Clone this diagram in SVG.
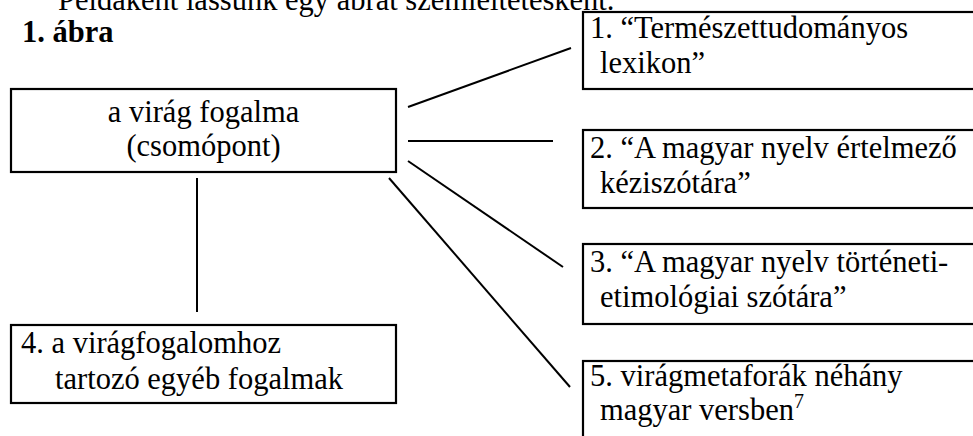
<svg xmlns="http://www.w3.org/2000/svg" width="973" height="436" viewBox="0 0 973 436">
<style>
text{font-family:"Liberation Serif","Times New Roman",serif;font-size:30.5px;fill:#000}
.b{font-weight:bold}
.box{fill:#fff;stroke:#000;stroke-width:2.2}
.c line{stroke:#000;stroke-width:2}
</style>
<rect width="973" height="436" fill="#fff"/>
<text x="58" y="10">Példaként lássunk egy ábrát szemléltetésként.</text>
<text class="b" x="22" y="42">1. ábra</text>
<g class="c" id="connectors">
<line x1="408" y1="107" x2="571" y2="48"/>
<line x1="408" y1="141" x2="553" y2="141"/>
<line x1="408" y1="161" x2="563" y2="267"/>
<line x1="389" y1="178" x2="570" y2="387"/>
<line x1="197" y1="178" x2="197" y2="312"/>
</g>
<g id="main">
<rect class="box" x="11" y="89" width="385" height="83"/>
<text x="203.5" y="122" text-anchor="middle">a virág fogalma</text>
<text x="203.5" y="156" text-anchor="middle">(csomópont)</text>
</g>
<g id="n1">
<rect class="box" x="583" y="12" width="400" height="77"/>
<text x="590" y="38">1. “Természettudományos</text>
<text x="600" y="73">lexikon”</text>
</g>
<g id="n2">
<rect class="box" x="583" y="130" width="400" height="78"/>
<text x="590" y="158">2. “A magyar nyelv értelmező</text>
<text x="600" y="193">kéziszótára”</text>
</g>
<g id="n3">
<rect class="box" x="583" y="244" width="400" height="80"/>
<text x="590" y="272">3. “A magyar nyelv történeti-</text>
<text x="600" y="307">etimológiai szótára”</text>
</g>
<g id="n4">
<rect class="box" x="11" y="325" width="385" height="78"/>
<text x="21" y="353">4. a virágfogalomhoz</text>
<text x="55" y="389">tartozó egyéb fogalmak</text>
</g>
<g id="n5">
<rect class="box" x="583" y="361" width="400" height="100"/>
<text x="590" y="386">5. virágmetaforák néhány</text>
<text x="600" y="420">magyar versben<tspan font-size="20" dy="-12">7</tspan></text>
</g>
</svg>
